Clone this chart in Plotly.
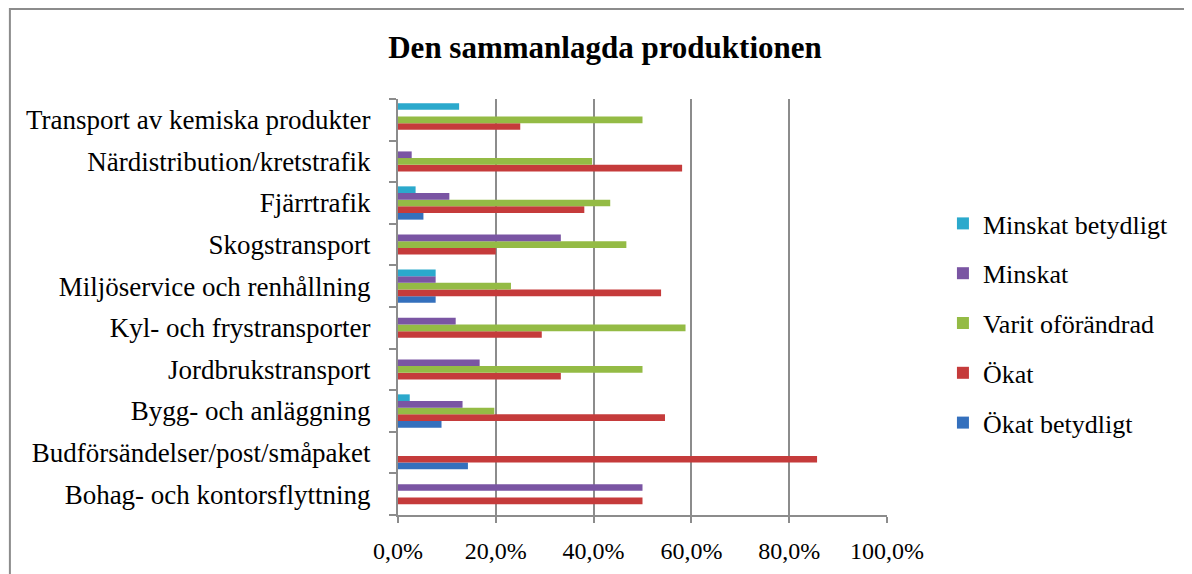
import plotly.graph_objects as go

categories = [
    "Bohag- och kontorsflyttning",
    "Budförsändelser/post/småpaket",
    "Bygg- och anläggning",
    "Jordbrukstransport",
    "Kyl- och frystransporter",
    "Miljöservice och renhållning",
    "Skogstransport",
    "Fjärrtrafik",
    "Närdistribution/kretstrafik",
    "Transport av kemiska produkter",
]

okat_betydligt = [0, 14.3, 8.9, 0, 0, 7.7, 0, 5.2, 0, 0]
okat = [50.0, 85.7, 54.6, 33.3, 29.4, 53.8, 20.0, 38.1, 58.1, 25.0]
oforandrad = [0, 0, 19.7, 50.0, 58.8, 23.1, 46.7, 43.4, 39.7, 50.0]
minskat = [50.0, 0, 13.2, 16.7, 11.8, 7.7, 33.3, 10.5, 2.8, 0]
minskat_betydligt = [0, 0, 2.4, 0, 0, 7.7, 0, 3.6, 0, 12.5]

series = [
    ("Ökat betydligt", okat_betydligt, "#3470BD"),
    ("Ökat", okat, "#C53B3B"),
    ("Varit oförändrad", oforandrad, "#94BB45"),
    ("Minskat", minskat, "#7A55A3"),
    ("Minskat betydligt", minskat_betydligt, "#2BA9CC"),
]

FONT = "Liberation Serif"

# the page adds an 8px body margin, so the figure is sized to fit inside it
W, H = 1184, 566
L, R, T, B = 389.5, 305, 91, 59
pw, ph = W - L - R, H - T - B

fig = go.Figure()
for i, (name, vals, color) in enumerate(series):
    fig.add_trace(go.Bar(
        y=categories,
        x=vals,
        name=name,
        orientation="h",
        marker=dict(color=color, line=dict(width=0)),
        legendgroup=name,
        legendrank=1000 - i,  # legend lists "Minskat betydligt" first
    ))

fig.update_layout(
    width=W,
    height=H,
    barmode="group",
    bargap=0.2,
    bargroupgap=0,
    plot_bgcolor="white",
    paper_bgcolor="white",
    separators=", ",
    font=dict(family=FONT, size=27, color="black"),
    margin=dict(l=L, r=R, t=T, b=B, autoexpand=False),
    title=dict(
        text="<b>Den sammanlagda produktionen</b>",
        x=597 / W,
        xanchor="center",
        xref="container",
        y=1 - 39 / H,
        yanchor="middle",
        yref="container",
        font=dict(family=FONT, size=31, color="black"),
    ),
    legend=dict(
        x=(935 - L) / pw,
        xanchor="left",
        y=(H - B - 192) / ph,
        yanchor="top",
        traceorder="grouped",
        tracegroupgap=13,
        font=dict(family=FONT, size=26, color="black"),
        bgcolor="rgba(0,0,0,0)",
    ),
    showlegend=True,
)

fig.update_xaxes(
    range=[0, 100],
    dtick=20,
    tickformat=".1f",
    ticksuffix="%",
    tickfont=dict(family=FONT, size=24),
    showgrid=True,
    gridcolor="#8c8c8c",
    gridwidth=2,
    zeroline=False,
    showline=True,
    linecolor="#8c8c8c",
    linewidth=2,
    ticks="outside",
    ticklen=6,
    tickwidth=2,
    tickcolor="#8c8c8c",
    ticklabelstandoff=7,
)
fig.update_yaxes(
    tickfont=dict(family=FONT, size=27),
    showgrid=False,
    showline=True,
    linecolor="#8c8c8c",
    linewidth=2,
    ticks="outside",
    tickson="boundaries",
    ticklen=7,
    tickwidth=2,
    tickcolor="#8c8c8c",
    ticklabelstandoff=20,
)

# outer chart frame (right and bottom edges fall outside the page)
fig.add_shape(
    type="rect",
    xref="paper", yref="paper",
    x0=(1 - L) / pw, x1=(W + 20 - L) / pw,
    y0=(H - B - (H + 20)) / ph, y1=(H - B - 1) / ph,
    line=dict(color="#8c8c8c", width=2),
    fillcolor="rgba(0,0,0,0)",
    layer="below",
)

fig.write_html("out.html")
